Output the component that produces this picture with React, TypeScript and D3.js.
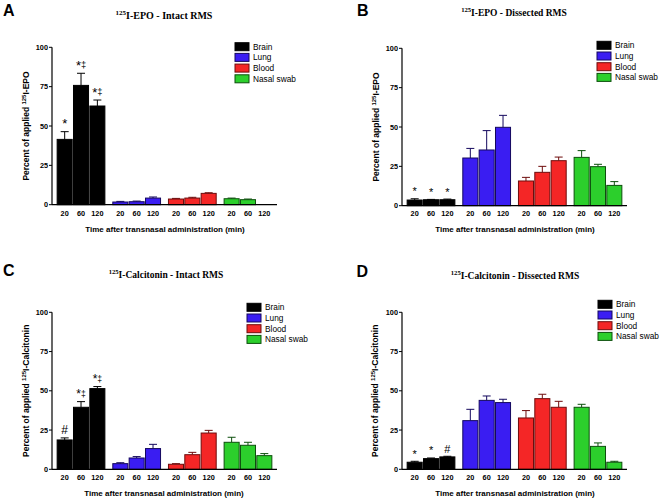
import React from "react";
import * as d3 from "d3";

const organs = ["Brain", "Lung", "Blood", "Nasal swab"];
const times = ["20", "60", "120"];
const yTicks = [0, 25, 50, 75, 100];

// Panel A: 125I-EPO intact RMS (order: Brain 20/60/120, Lung..., Blood..., Nasal...)
const epoIntactMean = [41.5, 75.8, 62.7, 1.7, 1.9, 4.2, 3.6, 4.2, 7.2, 3.8, 3.2, 0];
const epoIntactErr = [4.9, 7.7, 3.8, 0.4, 0.4, 0.7, 0.4, 0.5, 0.4, 0.4, 0.4, 0];
const epoIntactMarks = ["*", "*‡", "*‡"];

// Panel B: 125I-EPO dissected RMS
const epoDissMean = [3.6, 3.8, 3.8, 30.3, 35.4, 49.8, 15.7, 21.2, 28.6, 30.7, 24.8, 12.9];
const epoDissErr = [0.8, 0.2, 0.4, 6.1, 12.3, 7.6, 2.3, 3.8, 2.3, 4.3, 1.5, 2.4];
const epoDissMarks = ["*", "*", "*"];

// Panel C: 125I-Calcitonin intact RMS
const calIntactMean = [18.7, 39.5, 51.4, 3.6, 7.2, 13.2, 3.2, 9.3, 23.1, 17.2, 15.3, 8.7];
const calIntactErr = [1.3, 3.6, 1.3, 0.6, 0.9, 2.7, 0.4, 1.5, 1.7, 3.2, 1.9, 1.3];
const calIntactMarks = ["#", "*‡", "*‡"];

// Panel D: 125I-Calcitonin dissected RMS
const calDissMean = [4.5, 6.8, 7.9, 31.0, 43.9, 42.5, 32.7, 45.0, 39.5, 39.5, 14.6, 4.5];
const calDissErr = [0.6, 0.4, 0.4, 7.2, 2.8, 2.1, 4.7, 2.8, 3.8, 1.9, 2.2, 0.6];
const calDissMarks = ["*", "*", "#"];

const fills = ["#000000", "#3a1df2", "#f42626", "#2ccf2c"];
const strokes = ["#000000", "#14085e", "#6e0c0c", "#0c4f0c"];

const SANS = "Arial, 'Liberation Sans', Helvetica, sans-serif";
const SERIF = "'Times New Roman', 'Liberation Serif', serif";

type PanelProps = {
  letter: string;
  letterX: number;
  letterY: number;
  compound: string;
  subtitle: string;
  titleX: number;
  titleY: number;
  titleSize: number;
  axisX: number;
  yTop: number;
  yBot: number;
  legendX: number;
  legendY: number;
  yTitleX: number;
  xTitleX: number;
  xTitleY: number;
  tickY: number;
  means: number[];
  errs: number[];
  marks: string[];
  markSize: number;
};

function Mark({ x, y, text, size }: { x: number; y: number; text: string; size: number }) {
  if (text.includes("‡")) {
    const base = text.replace("‡", "");
    return (
      <text x={x} y={y} textAnchor="middle" fontFamily={SANS} fontSize={size} fill="#000">
        {base}
        <tspan fontSize={size * 0.72} dy={-size * 0.12}>‡</tspan>
      </text>
    );
  }
  return (
    <text x={x} y={y} textAnchor="middle" fontFamily={SANS} fontSize={size} fill="#000">
      {text}
    </text>
  );
}

function Panel(p: PanelProps) {
  const axisLen = 225;
  const y = d3.scaleLinear().domain([0, 100]).range([p.yBot, p.yTop]);
  const gx = d3
    .scaleBand<string>()
    .domain(organs)
    .range([p.axisX + 4.5, p.axisX + 220.5])
    .paddingInner(0.119)
    .paddingOuter(0);
  const tx = d3.scaleBand<string>().domain(times).range([0, gx.bandwidth()]).padding(0);
  const bw = tx.bandwidth() - 1.3;
  const capHalf = 4;

  const bars: React.ReactNode[] = [];
  organs.forEach((o, gi) => {
    times.forEach((t, ti) => {
      const idx = gi * 3 + ti;
      const v = p.means[idx];
      const e = p.errs[idx];
      const cx = (gx(o) as number) + (tx(t) as number) + tx.bandwidth() / 2;
      const x = cx - bw / 2;
      if (v > 0) {
        const top = y(v);
        const et = y(v + e);
        bars.push(
          <g key={`b${idx}`}>
            <line x1={cx} x2={cx} y1={top} y2={et} stroke={strokes[gi]} strokeWidth={1} />
            <line x1={cx - capHalf} x2={cx + capHalf} y1={et} y2={et} stroke={strokes[gi]} strokeWidth={1} />
            <rect x={x} y={top} width={bw} height={p.yBot - top} fill={fills[gi]} stroke={strokes[gi]} strokeWidth={1} />
          </g>
        );
        if (gi === 0 && p.marks[ti]) {
          bars.push(<Mark key={`m${idx}`} x={cx} y={et - 3.5} text={p.marks[ti]} size={p.markSize} />);
        }
      }
      bars.push(
        <text key={`t${idx}`} x={cx} y={p.tickY} textAnchor="middle" fontFamily={SANS} fontWeight="bold" fontSize={7.3} fill="#000">
          {t}
        </text>
      );
    });
  });

  const yMid = (p.yTop + p.yBot) / 2;

  return (
    <g>
      <text x={p.letterX} y={p.letterY} fontFamily={SANS} fontWeight="bold" fontSize={16} fill="#000">
        {p.letter}
      </text>
      <text x={p.titleX} y={p.titleY} textAnchor="middle" fontFamily={SERIF} fontWeight="bold" fontSize={p.titleSize} fill="#000">
        <tspan fontSize={p.titleSize * 0.7} dy={-4}>125</tspan>
        <tspan dy={4}>{p.compound + " - " + p.subtitle}</tspan>
      </text>
      {bars}
      <line x1={p.axisX} x2={p.axisX} y1={p.yTop} y2={p.yBot} stroke="#000" strokeWidth={1.2} />
      <line x1={p.axisX} x2={p.axisX + axisLen} y1={p.yBot} y2={p.yBot} stroke="#000" strokeWidth={1.2} />
      {yTicks.map((t) => (
        <g key={`yt${t}`}>
          <line x1={p.axisX - 3} x2={p.axisX} y1={y(t)} y2={y(t)} stroke="#000" strokeWidth={1} />
          <text x={p.axisX - 4} y={y(t)} dy="0.35em" textAnchor="end" fontFamily={SANS} fontWeight="bold" fontSize={7.3} fill="#000">
            {t}
          </text>
        </g>
      ))}
      <text
        transform={`translate(${p.yTitleX},${yMid}) rotate(-90)`}
        textAnchor="middle"
        fontFamily={SANS}
        fontWeight="bold"
        fontSize={8.5}
        fill="#000"
      >
        {"Percent of applied "}
        <tspan fontSize={6} dy={-3}>125</tspan>
        <tspan dy={3}>{p.compound}</tspan>
      </text>
      <text x={p.xTitleX} y={p.xTitleY} textAnchor="middle" fontFamily={SANS} fontWeight="bold" fontSize={8} fill="#000">
        Time after transnasal administration (min)
      </text>
      {organs.map((o, i) => (
        <g key={`lg${o}`}>
          <rect x={p.legendX} y={p.legendY + i * 10.7 - 4} width={14} height={8} fill={fills[i]} stroke={strokes[i]} strokeWidth={1} />
          <text x={p.legendX + 18} y={p.legendY + i * 10.7} dy="0.35em" fontFamily={SANS} fontSize={8.3} fill="#000">
            {o}
          </text>
        </g>
      ))}
    </g>
  );
}

export default function App() {
  return (
    <svg
      width={661}
      height={501}
      viewBox="0 0 661 501"
      style={{ position: "absolute", left: 0, top: 0, background: "#fff" }}
    >
      <rect x={0} y={0} width={661} height={501} fill="#fff" />
      <Panel
        letter="A" letterX={3} letterY={16}
        compound="I-EPO" subtitle="Intact RMS" titleX={164} titleY={19} titleSize={10}
        axisX={52} yTop={47.3} yBot={204.7}
        legendX={235} legendY={46.7}
        yTitleX={29} xTitleX={165} xTitleY={232} tickY={215.5}
        means={epoIntactMean} errs={epoIntactErr} marks={epoIntactMarks} markSize={13}
      />
      <Panel
        letter="B" letterX={357} letterY={16}
        compound="I-EPO" subtitle="Dissected RMS" titleX={514} titleY={15.7} titleSize={9.5}
        axisX={402} yTop={48.3} yBot={205.7}
        legendX={597} legendY={45.3}
        yTitleX={379} xTitleX={515} xTitleY={232} tickY={215.5}
        means={epoDissMean} errs={epoDissErr} marks={epoDissMarks} markSize={11}
      />
      <Panel
        letter="C" letterX={3} letterY={275.5}
        compound="I-Calcitonin" subtitle="Intact RMS" titleX={166} titleY={278.3} titleSize={9.5}
        axisX={52} yTop={312.3} yBot={469.3}
        legendX={247} legendY={307.3}
        yTitleX={29} xTitleX={164} xTitleY={496} tickY={480}
        means={calIntactMean} errs={calIntactErr} marks={calIntactMarks} markSize={12}
      />
      <Panel
        letter="D" letterX={356.5} letterY={277}
        compound="I-Calcitonin" subtitle="Dissected RMS" titleX={515} titleY={279} titleSize={9.5}
        axisX={402} yTop={312.3} yBot={469.3}
        legendX={598} legendY={304.3}
        yTitleX={378} xTitleX={515} xTitleY={496} tickY={480}
        means={calDissMean} errs={calDissErr} marks={calDissMarks} markSize={11}
      />
    </svg>
  );
}
